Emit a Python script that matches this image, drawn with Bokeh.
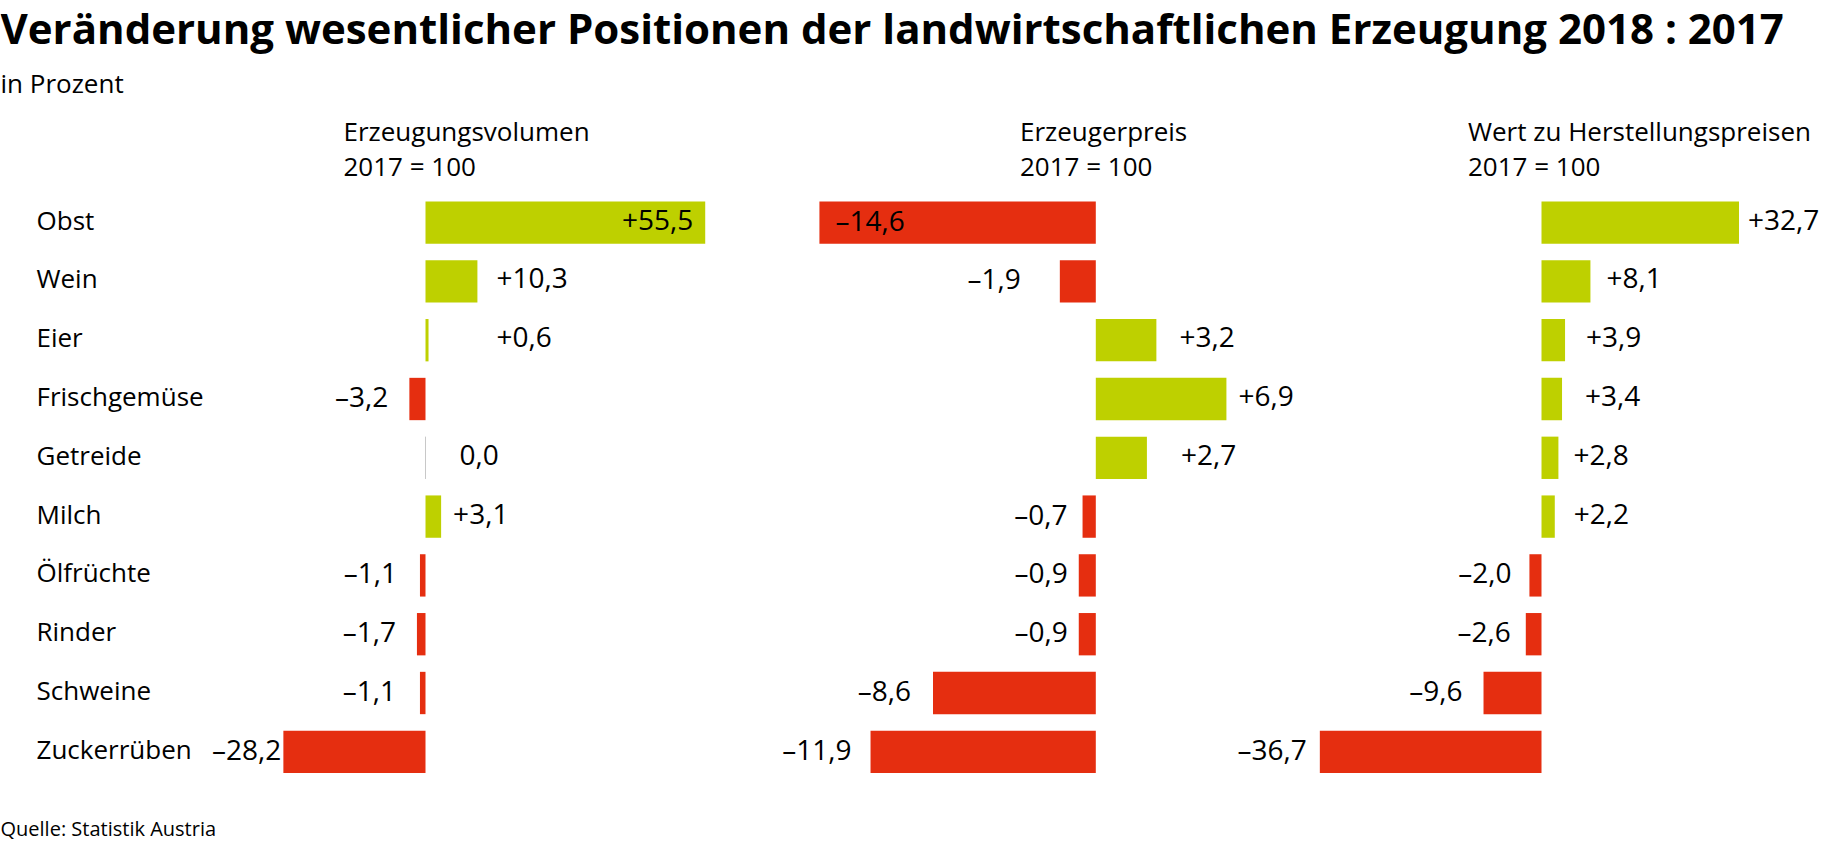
from bokeh.plotting import figure
from bokeh.models import Range1d, ColumnDataSource
from bokeh.core.properties import value
from bokeh.embed import file_html
from bokeh.resources import INLINE

# ---------------- data ----------------
categories = ["Obst", "Wein", "Eier", "Frischgemüse", "Getreide", "Milch",
              "Ölfrüchte", "Rinder", "Schweine", "Zuckerrüben"]
volumen = [55.5, 10.3, 0.6, -3.2, 0.0, 3.1, -1.1, -1.7, -1.1, -28.2]
preis = [-14.6, -1.9, 3.2, 6.9, 2.7, -0.7, -0.9, -0.9, -8.6, -11.9]
wert = [32.7, 8.1, 3.9, 3.4, 2.8, 2.2, -2.0, -2.6, -9.6, -36.7]
panel_titles = ["Erzeugungsvolumen", "Erzeugerpreis", "Wert zu Herstellungspreisen"]
panel_base = "2017 = 100"
title_text = "Veränderung wesentlicher Positionen der landwirtschaftlichen Erzeugung 2018 : 2017"
unit_text = "in Prozent"
source_text = "Quelle: Statistik Austria"

# ---------------- layout / style ----------------
W, H = 1829, 846
GREEN = "#bed000"
RED = "#e52e10"
FONT = "Open Sans"
LBL = "26px"
VAL = "28px"

# pixel position of zero line and pixels per unit for each panel
panel_zero = [425.0, 1095.3, 1541.0]
panel_scale = [5.04, 18.93, 6.04]
panel_head_x = [343.0, 1019.5, 1467.5]
# label offsets in px from bar end
label_dx = [
    [-12, 19, 68, -21, 34, 12, -23, -21, -24, -2],
    [16, -39, 23, 12, 34, -15, -11, -11, -22, -19],
    [9, 16, 21, 23, 15, 19, -18, -15, -21, -13],
]
inside = [
    [True] + [False] * 9,
    [True] + [False] * 9,
    [False] * 10,
]
TEXT_DY = -3

row0, row_step = 222.1, 58.8
rows_range = Range1d(start=(H - row0) / row_step, end=-row0 / row_step)

extra_x = {}
for k, (z, s) in enumerate(zip(panel_zero, panel_scale)):
    extra_x[f"p{k}"] = Range1d(start=-z / s, end=(W - z) / s)

p = figure(width=W, height=H, output_backend="svg", toolbar_location=None,
           x_range=Range1d(0, W), y_range=Range1d(H, 0),
           x_axis_location=None, y_axis_location=None, min_border=0)
p.extra_x_ranges = extra_x
p.extra_y_ranges = {"rows": rows_range}
p.grid.visible = False
p.outline_line_color = None
p.background_fill_color = "white"
p.border_fill_color = "white"


def fmt(v):
    s = f"{abs(v):.1f}".replace(".", ",")
    if v > 0:
        return "+" + s
    if v < 0:
        return "\u2013" + s
    return s


rows = list(range(len(categories)))

# category labels
p.text(x=[36] * len(categories), y=rows, text=categories, y_range_name="rows",
       text_font=value(FONT), text_font_size=LBL, text_color="black",
       text_align="left", text_baseline="alphabetic", y_offset=TEXT_DY)

for k, vals in enumerate([volumen, preis, wert]):
    rn = f"p{k}"
    colors = [GREEN if v > 0 else RED for v in vals]
    src = ColumnDataSource(dict(row=rows, v=vals, color=colors))
    p.hbar(y="row", left=0, right="v", height=0.72, fill_color="color",
           line_color=None, source=src, x_range_name=rn, y_range_name="rows")
    # zero values drawn as thin grey line
    zr = [r for r, v in zip(rows, vals) if v == 0]
    if zr:
        p.segment(x0=[0] * len(zr), x1=[0] * len(zr),
                  y0=[r - 0.36 for r in zr], y1=[r + 0.36 for r in zr],
                  line_color="#c8c8c8", line_width=1,
                  x_range_name=rn, y_range_name="rows")
    # value labels
    left_d = dict(row=[], v=[], t=[], dx=[])
    right_d = dict(row=[], v=[], t=[], dx=[])
    for r, v in zip(rows, vals):
        dx = label_dx[k][r]
        ins = inside[k][r]
        if (v >= 0 and not ins) or (v < 0 and ins):
            d = left_d
        else:
            d = right_d
        d["row"].append(r)
        d["v"].append(v)
        d["t"].append(fmt(v))
        d["dx"].append(dx)
    for d, al in ((left_d, "left"), (right_d, "right")):
        if d["row"]:
            p.text(x="v", y="row", text="t", x_offset="dx", y_offset=TEXT_DY,
                   source=ColumnDataSource(d), x_range_name=rn, y_range_name="rows",
                   text_font=value(FONT), text_font_size=VAL, text_color="black",
                   text_align=al, text_baseline="alphabetic")
    # panel headers
    p.text(x=[panel_head_x[k], panel_head_x[k]], y=[130, 165],
           text=[panel_titles[k], panel_base],
           text_font=value(FONT), text_font_size=LBL, text_color="black",
           text_align="left", text_baseline="alphabetic")

# title, unit, source
p.text(x=[0], y=[27], text=[title_text], text_font=value(FONT),
       text_font_style="bold", text_font_size="42px", text_color="black",
       text_align="left", text_baseline="alphabetic")
p.text(x=[0], y=[82.5], text=[unit_text], text_font=value(FONT),
       text_font_size="26px", text_color="black",
       text_align="left", text_baseline="alphabetic")
p.text(x=[0], y=[828], text=[source_text], text_font=value(FONT),
       text_font_size="20px", text_color="black",
       text_align="left", text_baseline="alphabetic")

open("out.html", "w").write(file_html(p, INLINE))
